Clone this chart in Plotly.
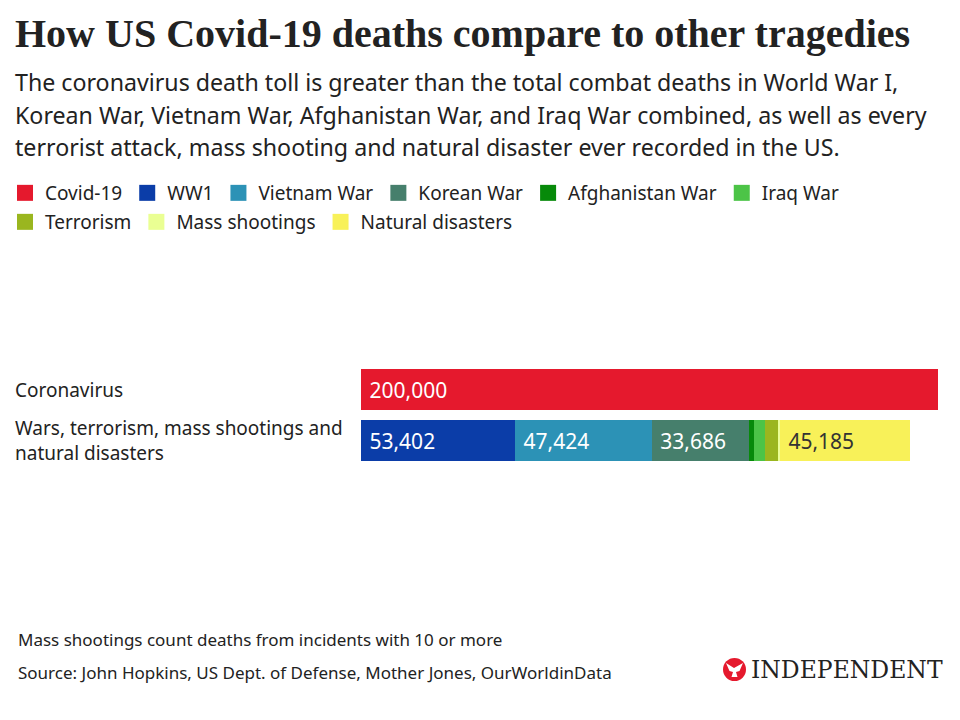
import plotly.graph_objects as go

# ---------------- data ----------------
categories = ["Coronavirus", "Wars, terrorism, mass shootings and natural disasters"]
category_labels = ["Coronavirus", "Wars, terrorism, mass shootings and<br>natural disasters"]

series_names = ["Covid-19", "WW1", "Vietnam War", "Korean War",
                "Afghanistan War", "Iraq War", "Terrorism",
                "Mass shootings", "Natural disasters"]
series_category = [0, 1, 1, 1, 1, 1, 1, 1, 1]
series_values = [200000, 53402, 47424, 33686, 1800, 3800, 4500, 600, 45185]
series_colors = ["#E5192D", "#0B3DA8", "#2C92B6", "#467F6C", "#078A0A",
                 "#4CC447", "#9AB61F", "#EAFF93", "#F8F159"]
label_colors = ["#FFFFFF", "#FFFFFF", "#FFFFFF", "#FFFFFF", "#FFFFFF",
                "#FFFFFF", "#FFFFFF", "#333333", "#333333"]
legend_row = [1, 1, 1, 1, 1, 1, 2, 2, 2]

title = "How US Covid-19 deaths compare to other tragedies"
subtitle_lines = [
    "The coronavirus death toll is greater than the total combat deaths in World War I,",
    "Korean War, Vietnam War, Afghanistan War, and Iraq War combined, as well as every",
    "terrorist attack, mass shooting and natural disaster ever recorded in the US.",
]
note = "Mass shootings count deaths from incidents with 10 or more"
source = "Source: John Hopkins, US Dept. of Defense, Mother Jones, OurWorldinData"

# ---------------- layout geometry ----------------
W, H = 960, 720
L, R, T, B = 361, 22, 364, 252
PW, PH = W - L - R, H - T - B
SANS = "'Noto Sans', Lato, sans-serif"
SERIF = "'Liberation Serif', 'DejaVu Serif', serif"
INK = "#222222"
NB = "\u00a0"


def px(x):
    return (x - L) / PW


def py(y):
    return (H - B - y) / PH


fig = go.Figure()

for i, name in enumerate(series_names):
    v = series_values[i]
    fig.add_trace(go.Bar(
        x=[v], y=[categories[series_category[i]]], orientation="h",
        name=name, marker=dict(color=series_colors[i], line=dict(width=0)),
        text=[f"{NB}{v:,}" if v > 10000 else ""], textposition="inside",
        insidetextanchor="start", textangle=0,
        textfont=dict(family=SANS, size=21, color=label_colors[i]),
        showlegend=False, hoverinfo="x+name",
    ))

# legend entries (square swatches)
for i, name in enumerate(series_names):
    fig.add_trace(go.Scatter(
        x=[None], y=[None], mode="markers", name=name,
        marker=dict(symbol="square", size=20, color=series_colors[i]),
        legend="legend" if legend_row[i] == 1 else "legend2",
        showlegend=True,
    ))

legend_common = dict(
    orientation="h", xref="paper", yref="paper", traceorder="normal",
    xanchor="left", yanchor="middle", x=px(5),
    font=dict(family=SANS, size=19, color=INK),
    bgcolor="rgba(0,0,0,0)", itemsizing="trace", tracegroupgap=0,
    itemclick=False, itemdoubleclick=False,
)

annotations = []
for k, line in enumerate(subtitle_lines):
    annotations.append(dict(
        text=line, xref="paper", yref="paper", x=px(13), y=py([82, 115, 147][k]),
        xanchor="left", yanchor="middle", showarrow=False,
        font=dict(family=SANS, size=23.2, color=INK),
    ))
for k, lab in enumerate(category_labels):
    annotations.append(dict(
        text=lab, xref="paper", yref="y", x=px(13), y=categories[k],
        xanchor="left", yanchor="middle", align="left", showarrow=False,
        font=dict(family=SANS, size=19, color=INK),
    ))
annotations.append(dict(text=note, xref="paper", yref="paper", x=px(16), y=py(639),
                        xanchor="left", yanchor="middle", showarrow=False,
                        font=dict(family=SANS, size=17, color=INK)))
annotations.append(dict(text=source, xref="paper", yref="paper", x=px(16), y=py(672),
                        xanchor="left", yanchor="middle", showarrow=False,
                        font=dict(family=SANS, size=17, color=INK)))
annotations.append(dict(text="INDEPENDENT", xref="paper", yref="paper", x=px(945), y=py(670),
                        xanchor="right", yanchor="middle", showarrow=False,
                        font=dict(family="'DejaVu Serif', serif", size=23.5, color="#222222")))

# logo roundel with a simplified eagle
eagle_pts = [(726, 663), (734, 668), (743, 663), (739.5, 671), (736, 672), (737.5, 677),
             (731.5, 677), (733, 672), (729.5, 671)]
eagle_path = "M" + "L".join(f"{px(a):.5f},{py(b):.5f}" for a, b in eagle_pts) + "Z"
shapes = [
    dict(type="circle", xref="paper", yref="paper",
         x0=px(723), x1=px(746), y0=py(681), y1=py(658),
         fillcolor="#E5192D", line=dict(width=0)),
    dict(type="path", xref="paper", yref="paper", path=eagle_path,
         fillcolor="white", line=dict(width=0)),
]

fig.update_layout(
    width=W, height=H,
    margin=dict(l=L, r=R, t=T, b=B, pad=0, autoexpand=False),
    paper_bgcolor="white", plot_bgcolor="white",
    barmode="stack", bargap=0.21,
    title=dict(text=f"<b>{title}</b>", xref="container", yref="container",
               x=15 / W, y=1 - 33 / H, xanchor="left", yanchor="middle",
               font=dict(family=SERIF, size=40, color=INK)),
    xaxis=dict(range=[0, 200000], visible=False, fixedrange=True),
    yaxis=dict(categoryorder="array", categoryarray=categories, autorange="reversed",
               showticklabels=False, showgrid=False, zeroline=False, showline=False,
               ticks="", fixedrange=True),
    legend=dict(**legend_common, y=py(193)),
    legend2=dict(**legend_common, y=py(222)),
    annotations=annotations, shapes=shapes,
    hovermode="closest",
)

fig.write_html("out.html", config={"displayModeBar": False},
               post_script="document.body.style.margin='0';")
